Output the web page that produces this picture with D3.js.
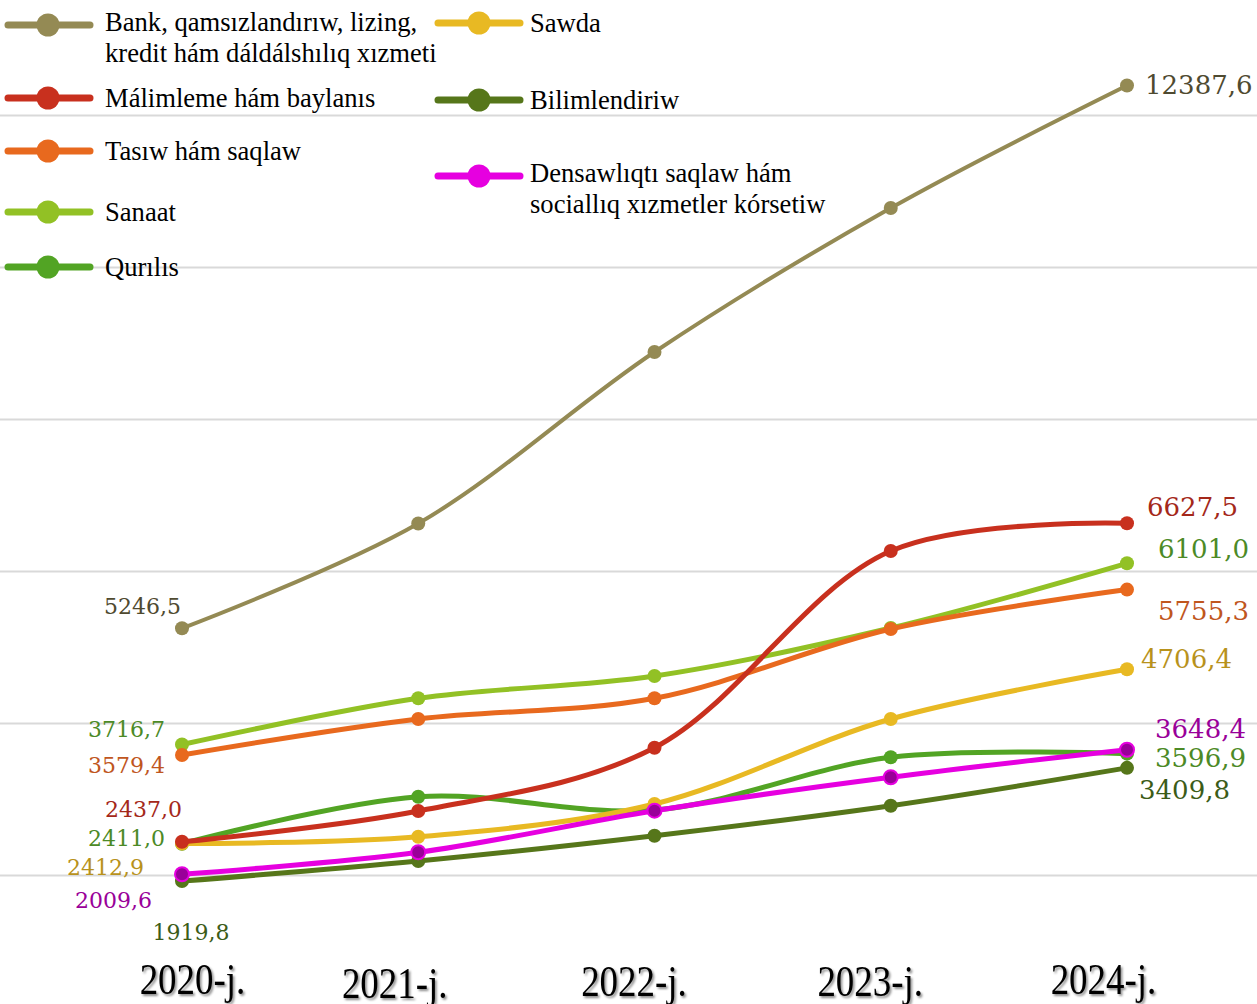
<!DOCTYPE html>
<html>
<head>
<meta charset="utf-8">
<script src="https://cdn.jsdelivr.net/npm/d3@7"></script>
<style>
  html, body { margin: 0; padding: 0; background: #fff; }
</style>
</head>
<body>
<div id="chart"></div>
<script>
// categories and series
var years = ["2020-j.", "2021-j.", "2022-j.", "2023-j.", "2024-j."];
var bank = [5246.5, 6625, 8882, 10776, 12387.6];
var malimleme = [2437.0, 2842, 3675, 6263, 6627.5];
var tasiw = [3579.4, 4053, 4325, 5237, 5755.3];
var sanaat = [3716.7, 4325, 4618, 5250, 6101.0];
var qurilis = [2411.0, 3030, 2855, 3549, 3596.9];
var sawda = [2412.9, 2504, 2934, 4053, 4706.4];
var bilim = [1919.8, 2184, 2517, 2912, 3409.8];
var densawliq = [2009.6, 2299, 2846, 3286, 3648.4];
var gridTicks = [2000, 4000, 6000, 8000, 10000, 12000];

//Width and height
var w = 1257;
var h = 1004;

// series styling: colour, label colour, label offsets for first / last point
var series = [
  { name: ["Bank, qamsızlandırıw, lizing,", "kredit hám dáldálshılıq xızmeti"], values: bank,
    color: "#948A54", label: "#4F4A30", width: 4, r: 7,
    first: { dx: -1, dy: -14, anchor: "end" }, last: { dx: 18, dy: 8 }, leg: [0, 25] },
  { name: ["Sanaat"], values: sanaat, color: "#92C125", label: "#4C8A26", width: 5, r: 7,
    first: { dx: -17, dy: -8, anchor: "end" }, last: { dx: 31, dy: -5 }, leg: [0, 212] },
  { name: ["Tasıw hám saqlaw"], values: tasiw, color: "#E8691E", label: "#C0561E", width: 5, r: 7,
    first: { dx: -17, dy: 18, anchor: "end" }, last: { dx: 31, dy: 30 }, leg: [0, 151] },
  { name: ["Qurılıs"], values: qurilis, color: "#52A424", label: "#4C8A26", width: 5, r: 7,
    first: { dx: -17, dy: 2, anchor: "end" }, last: { dx: 28, dy: 13 }, leg: [0, 267] },
  { name: ["Sawda"], values: sawda, color: "#E8B923", label: "#B8921C", width: 5, r: 7,
    first: { dx: -38, dy: 31, anchor: "end" }, last: { dx: 14, dy: -1 }, leg: [1, 23] },
  { name: ["Bilimlendiriw"], values: bilim, color: "#56761A", label: "#3C5C18", width: 5, r: 7,
    first: { dx: 9, dy: 59, anchor: "middle" }, last: { dx: 12, dy: 31 }, leg: [1, 100] },
  { name: ["Málimleme hám baylanıs"], values: malimleme, color: "#C8301E", label: "#A4281A", width: 5, r: 7,
    first: { dx: 0, dy: -25, anchor: "end" }, last: { dx: 20, dy: -7 }, leg: [0, 98] },
  { name: ["Densawlıqtı saqlaw hám", "sociallıq xızmetler kórsetiw"], values: densawliq,
    color: "#E600E0", label: "#990099", width: 5, r: 7, fill: "#990099",
    first: { dx: -30, dy: 34, anchor: "end" }, last: { dx: 28, dy: -12 }, leg: [1, 176] }
];

var fmt = function(v) { return d3.format(".1f")(v).replace(".", ","); };

//Create SVG element
var svg = d3.select("#chart")
  .append("svg")
  .attr("width", w)
  .attr("height", h);

var defs = svg.append("defs");
var shadow = defs.append("filter").attr("id", "shadow")
  .attr("x", "-10%").attr("y", "-10%").attr("width", "130%").attr("height", "130%");
shadow.append("feDropShadow")
  .attr("dx", 2).attr("dy", 2).attr("stdDeviation", 1.2)
  .attr("flood-color", "#000").attr("flood-opacity", 0.45);

var x = d3.scalePoint().domain(years).range([182, 1127]);
var y = d3.scaleLinear().domain([0, 14000]).range([1027, -37]);

// gridlines
var grid = svg.append("g")
  .call(d3.axisRight(y).tickValues(gridTicks).tickSize(w).tickFormat(""));
grid.select(".domain").remove();
grid.selectAll("line").attr("stroke", "#D9D9D9").attr("stroke-width", 2);

// x axis labels
var xOff = [10, -24, -21, -21, -24];
var yOff = [0, 4, 2, 2, 0];
var xAxis = svg.append("g")
  .attr("transform", "translate(0,994)")
  .call(d3.axisBottom(x).tickSize(0).tickPadding(0));
xAxis.select(".domain").remove();
xAxis.selectAll(".tick text")
  .attr("y", 0).attr("dy", 0)
  .attr("transform", function(d, i) {
    return "translate(" + xOff[i] + "," + yOff[i] + ") scale(0.84,1)";
  })
  .attr("font-family", "'Liberation Serif', 'Times New Roman', serif")
  .attr("font-size", 44)
  .attr("fill", "#000")
  .attr("filter", "url(#shadow)");

// lines
var line = d3.line()
  .x(function(d, i) { return x(years[i]); })
  .y(function(d) { return y(d); })
  .curve(d3.curveCatmullRom.alpha(0.5));

series.forEach(function(s) {
  var g = svg.append("g");
  g.append("path")
    .attr("d", line(s.values))
    .attr("fill", "none")
    .attr("stroke", s.color)
    .attr("stroke-width", s.width)
    .attr("stroke-linecap", "round");
  g.selectAll("circle")
    .data(s.values)
    .enter()
    .append("circle")
    .attr("cx", function(d, i) { return x(years[i]); })
    .attr("cy", function(d) { return y(d); })
    .attr("r", s.r)
    .attr("fill", s.fill || s.color)
    .attr("stroke", s.fill ? s.color : "none")
    .attr("stroke-width", 2);
});

// data labels on first and last point
series.forEach(function(s) {
  var n = s.values.length - 1;
  svg.append("text")
    .attr("x", x(years[0]) + s.first.dx)
    .attr("y", y(s.values[0]) + s.first.dy)
    .attr("text-anchor", s.first.anchor)
    .attr("font-family", "'DejaVu Serif', serif")
    .attr("font-size", 22)
    .attr("fill", s.label)
    .text(fmt(s.values[0]));
  svg.append("text")
    .attr("x", x(years[n]) + s.last.dx)
    .attr("y", y(s.values[n]) + s.last.dy)
    .attr("font-family", "'DejaVu Serif', serif")
    .attr("font-size", 26)
    .attr("fill", s.label)
    .text(fmt(s.values[n]));
});

// legend
var legCols = [{ x0: 8, x1: 90, cx: 48, tx: 105 }, { x0: 438, x1: 520, cx: 479, tx: 530 }];
series.forEach(function(s) {
  var c = legCols[s.leg[0]];
  var ly = s.leg[1];
  var g = svg.append("g");
  g.append("line")
    .attr("x1", c.x0).attr("x2", c.x1)
    .attr("y1", ly).attr("y2", ly)
    .attr("stroke", s.color)
    .attr("stroke-width", 7)
    .attr("stroke-linecap", "round");
  g.append("circle")
    .attr("cx", c.cx).attr("cy", ly).attr("r", 11.5)
    .attr("fill", s.color);
  var t = g.append("text")
    .attr("font-family", "'Liberation Serif', 'Times New Roman', serif")
    .attr("font-size", 26.6)
    .attr("fill", "#000");
  var top = s.name.length > 1 ? ly + 6 : ly + 9;
  s.name.forEach(function(str, i) {
    t.append("tspan").attr("x", c.tx).attr("y", top + i * 31).text(str);
  });
});
</script>
</body>
</html>
